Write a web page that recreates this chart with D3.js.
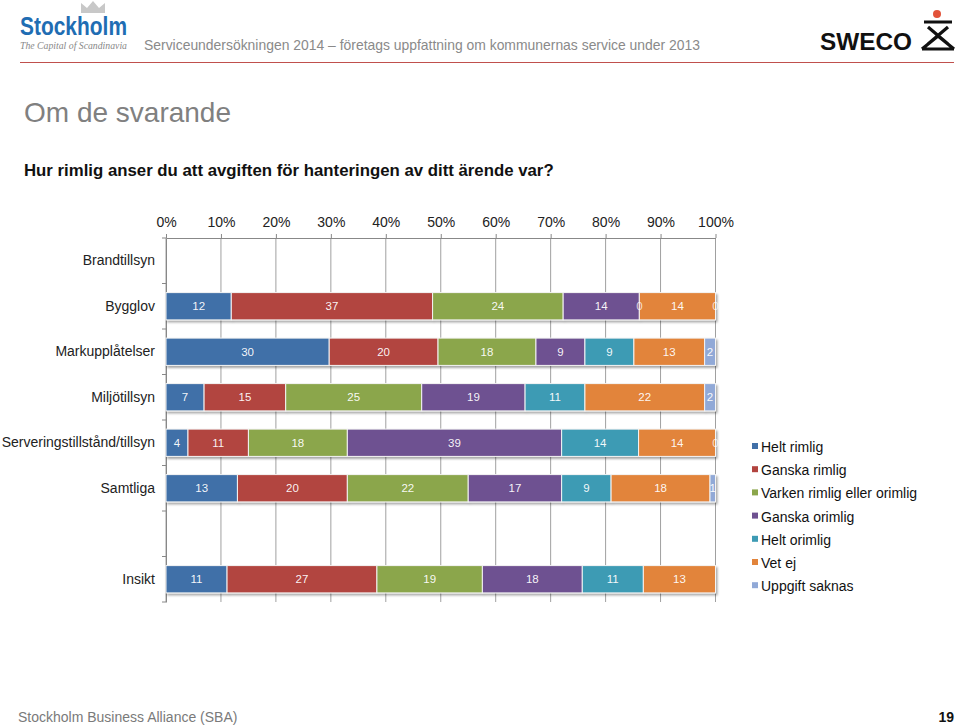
<!DOCTYPE html>
<html><head><meta charset="utf-8">
<script src="https://cdn.jsdelivr.net/npm/d3@7/dist/d3.min.js"></script>
<style>body{margin:0;background:#fff;font-family:"Liberation Sans",Arial,sans-serif}</style>
</head><body>
<svg id="c" width="959" height="728"></svg>
<script>
const categories = ["Brandtillsyn","Bygglov","Markupplåtelser","Miljötillsyn","Serveringstillstånd/tillsyn","Samtliga","","Insikt"];
const series = ["Helt rimlig","Ganska rimlig","Varken rimlig eller orimlig","Ganska orimlig","Helt orimlig","Vet ej","Uppgift saknas"];
const colors = ["#4170a8","#b2443f","#8ba64b","#6e5191","#3d9bb4","#e2843b","#91a9d7"];
const helt_rimlig      = [null,12,30, 7, 4,13,null,11];
const ganska_rimlig    = [null,37,20,15,11,20,null,27];
const varken           = [null,24,18,25,18,22,null,19];
const ganska_orimlig   = [null,14, 9,19,39,17,null,18];
const helt_orimlig     = [null, 0, 9,11,14, 9,null,11];
const vet_ej           = [null,14,13,22,14,18,null,13];
const uppgift_saknas   = [null, 0, 2, 2, 0, 1,null, 0];
const tickLabels = ["0%","10%","20%","30%","40%","50%","60%","70%","80%","90%","100%"];
const seriesValues = [helt_rimlig,ganska_rimlig,varken,ganska_orimlig,helt_orimlig,vet_ej,uppgift_saknas];

const svg = d3.select("#c");
// header
const logo = svg.append("g");
logo.append("path").attr("d","M81,13 L81,3 L87,8 L93,1 L99,8 L105,3 L105,13 Z").attr("fill","#c8c8c8");
logo.append("text").attr("x",20).attr("y",35).attr("font-size",26).attr("font-weight","bold")
  .attr("fill","#1f6db3").attr("textLength",107).attr("lengthAdjust","spacingAndGlyphs")
  .attr("font-family","'Liberation Sans',Arial,sans-serif").text("Stockholm");
logo.append("text").attr("x",20).attr("y",49).attr("font-size",9.5).attr("font-style","italic")
  .attr("fill","#888").attr("textLength",107).attr("lengthAdjust","spacingAndGlyphs")
  .attr("font-family","'Liberation Serif','Times New Roman',serif").text("The Capital of Scandinavia");
svg.append("text").attr("x",144).attr("y",50).attr("font-size",14.5).attr("fill","#8a8a8a")
  .attr("textLength",556).attr("lengthAdjust","spacingAndGlyphs")
  .text("Serviceundersökningen 2014 – företags uppfattning om kommunernas service under 2013");
// SWECO
svg.append("text").attr("x",820).attr("y",50).attr("font-size",23).attr("font-weight","bold")
  .attr("fill","#111").attr("textLength",92).attr("lengthAdjust","spacingAndGlyphs").text("SWECO");
const sw = svg.append("g").attr("stroke","#111").attr("stroke-width",3.2).attr("fill","none");
sw.append("path").attr("d","M924,22 L952,22 M928,27 L948,44 M948,27 L928,44 M922,49 L954,49 M922,49 L938,36 L954,49");
svg.append("circle").attr("cx",937).attr("cy",14).attr("r",4).attr("fill","#e2533a");
svg.append("line").attr("x1",20).attr("x2",954).attr("y1",62.5).attr("y2",62.5).attr("stroke","#c0504d").attr("stroke-width",1.2);

svg.append("text").attr("x",24).attr("y",122).attr("font-size",28).attr("fill","#808080").text("Om de svarande");
svg.append("text").attr("x",24).attr("y",176).attr("font-size",16.8).attr("font-weight","bold").attr("fill","#111")
  .text("Hur rimlig anser du att avgiften för hanteringen av ditt ärende var?");

// chart
const x0 = 166, x1 = 715.5, yTop = 238, yBot = 602;
const x = d3.scaleLinear().domain([0,1]).range([x0,x1]);
const y = d3.scaleBand().domain(categories.map((c,i)=>i)).range([yTop,yBot]).paddingInner(0.4).paddingOuter(0.2);
const yb = d3.scaleBand().domain(categories.map((c,i)=>i)).range([yTop,yBot]);

const defs = svg.append("defs");
const f = defs.append("filter").attr("id","sh").attr("x","-5%").attr("y","-20%").attr("width","110%").attr("height","160%");
f.append("feDropShadow").attr("dx",1.5).attr("dy",2).attr("stdDeviation",1.2).attr("flood-color","#000").attr("flood-opacity",0.35);

// gridlines
const ticks = d3.range(0,1.0001,0.1);
svg.append("g").selectAll("line").data(ticks).join("line")
  .attr("x1",d=>x(d)).attr("x2",d=>x(d)).attr("y1",yTop).attr("y2",yBot)
  .attr("stroke","#a0a0a0").attr("stroke-width",1);

// top axis
const ax = svg.append("g").attr("transform",`translate(0,${yTop})`)
  .call(d3.axisTop(x).tickValues(ticks).tickSize(4).tickSizeOuter(0).tickFormat((d,i)=>tickLabels[i]));
ax.select(".domain").attr("stroke","#888");
ax.selectAll(".tick line").attr("stroke","#888");
ax.selectAll("text").attr("font-size",14).attr("fill","#222").attr("dy","-0.3em").attr("font-family","'Liberation Sans',Arial,sans-serif");

// left axis
const ay = svg.append("g").attr("transform",`translate(${x0},0)`)
  .call(d3.axisLeft(yb).tickSize(0).tickFormat(i=>categories[i]));
ay.select(".domain").attr("stroke","#888");
ay.selectAll("text").attr("font-size",14).attr("fill","#222").attr("dx","-8").attr("font-family","'Liberation Sans',Arial,sans-serif");
svg.append("g").selectAll("line").data(d3.range(categories.length+1)).join("line")
  .attr("x1",x0-4).attr("x2",x0).attr("y1",i=>yTop+i*yb.step()).attr("y2",i=>yTop+i*yb.step()).attr("stroke","#888");

// bars
const bars = svg.append("g");
categories.forEach((c,ci)=>{
  const vals = seriesValues.map(s=>s[ci]);
  if (vals.every(v=>v==null)) return;
  const tot = d3.sum(vals);
  let acc = 0;
  const segs = vals.map((v,si)=>{const s={si,v,a:acc/tot,b:(acc+v)/tot}; acc+=v; return s;});
  const g = bars.append("g").attr("filter","url(#sh)");
  g.selectAll("rect").data(segs.filter(s=>s.v>0)).join("rect")
    .attr("x",s=>x(s.a)).attr("width",s=>x(s.b)-x(s.a))
    .attr("y",y(ci)).attr("height",y.bandwidth())
    .attr("fill",s=>colors[s.si]).attr("stroke","#f4f4f4").attr("stroke-width",1);
  bars.append("g").selectAll("text").data(segs.filter(s=>!(s.si===6&&s.v===0&&ci===7))).join("text")
    .attr("x",s=>(x(s.a)+x(s.b))/2).attr("y",y(ci)+y.bandwidth()/2)
    .attr("dy","0.36em").attr("text-anchor","middle").attr("font-size",11.5)
    .attr("fill","#fff").attr("fill-opacity",s=>s.v===0?0.75:0.95).text(s=>s.v);
});

// legend
const lg = svg.append("g");
series.forEach((s,i)=>{
  const yy = 447 + i*23.2;
  lg.append("rect").attr("x",752).attr("y",yy-4).attr("width",6).attr("height",6).attr("fill",colors[i]);
  lg.append("text").attr("x",761).attr("y",yy).attr("dy","0.36em").attr("font-size",14).attr("fill","#111").text(s);
});

// footer
svg.append("text").attr("x",18).attr("y",722).attr("font-size",14).attr("fill","#7a7a7a").text("Stockholm Business Alliance (SBA)");
svg.append("text").attr("x",954).attr("y",722).attr("font-size",14).attr("font-weight","bold").attr("text-anchor","end").attr("fill","#111").text("19");
</script>
</body></html>
